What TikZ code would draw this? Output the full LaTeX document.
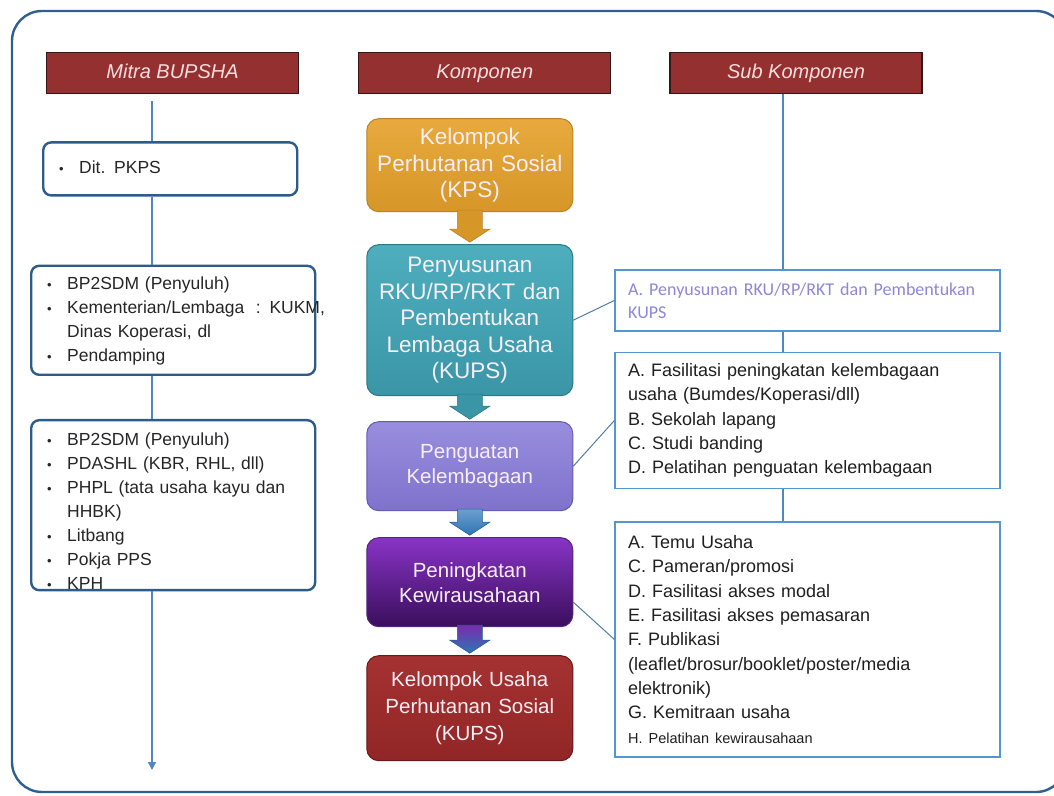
\documentclass[tikz,border=0pt]{standalone}
\usepackage{fontspec}
\setmainfont{Liberation Sans}
\newfontfamily\calibrifont{Carlito}
\usepackage{tikz}
\usetikzlibrary{shapes.geometric, arrows, arrows.meta, positioning, calc}
\definecolor{frameFg}{RGB}{47, 95, 143}
\definecolor{headBg}{RGB}{149, 48, 48}
\definecolor{headFg}{RGB}{55, 22, 22}
\definecolor{headText}{RGB}{246, 222, 222}
\definecolor{partnerFg}{RGB}{46, 92, 138}
\definecolor{spineFg}{RGB}{79, 135, 192}
\definecolor{subFg}{RGB}{84, 150, 210}
\definecolor{linkFg}{RGB}{80, 125, 165}
\definecolor{subAText}{RGB}{142, 134, 216}
\definecolor{stageText}{RGB}{248, 238, 246}
\definecolor{kpsTop}{RGB}{232, 170, 62}
\definecolor{kpsBot}{RGB}{214, 150, 40}
\definecolor{kpsFg}{RGB}{185, 130, 40}
\definecolor{rkuTop}{RGB}{78, 174, 190}
\definecolor{rkuBot}{RGB}{58, 150, 166}
\definecolor{rkuFg}{RGB}{45, 120, 135}
\definecolor{lemTop}{RGB}{152, 142, 222}
\definecolor{lemBot}{RGB}{126, 114, 204}
\definecolor{lemFg}{RGB}{100, 90, 180}
\definecolor{wirTop}{RGB}{136, 52, 198}
\definecolor{wirBot}{RGB}{58, 14, 92}
\definecolor{wirFg}{RGB}{80, 40, 120}
\definecolor{kupsTop}{RGB}{165, 50, 50}
\definecolor{kupsBot}{RGB}{145, 38, 38}
\definecolor{kupsFg}{RGB}{105, 25, 25}
\definecolor{arrBlue}{RGB}{46, 117, 182}
\definecolor{arrPurple}{RGB}{120, 45, 170}
\tikzstyle{frame} = [frameFg, line width=2.4pt, rounded corners=30pt]
\tikzstyle{head} = [rectangle, minimum width=252pt, minimum height=41pt, text height=14.5pt, text depth=4pt, draw=headFg, line width=1.2pt, fill=headBg, text=headText, font=\itshape\fontsize{20}{24}\selectfont]
\tikzstyle{partner} = [rectangle, rounded corners=8pt, draw=partnerFg, line width=2.4pt, fill=white, text=black!85, inner xsep=16pt, align=left, font=\fontsize{17.5}{24}\selectfont]
\tikzstyle{stage} = [rectangle, rounded corners=12pt, text width=196pt, inner xsep=5pt, align=center, text=stageText, line width=1pt]
\tikzstyle{sub} = [rectangle, draw=subFg, line width=1.5pt, fill=white, text width=359pt, inner xsep=13pt, align=left, text=black!88, font=\fontsize{18}{24.3}\selectfont]
\tikzstyle{spine} = [spineFg, line width=1.3pt]
\tikzstyle{link} = [linkFg, line width=1pt]
\newcommand{\bul}{{\fontsize{13}{13}\selectfont\textbullet}}
\newcommand{\stagearrow}[3]{%
  \path[#3] ($(#1.south)+(-12.5,2)$) -- ($(#1.south)+(12.5,2)$) -- ($(#2.north)+(12.5,15)$) -- ($(#2.north)+(20,15)$)
    -- ($(#2.north)+(0,2)$) -- ($(#2.north)+(-20,15)$) -- ($(#2.north)+(-12.5,15)$) -- cycle;}

\begin{document}
\begin{tikzpicture}[x=1pt, y=1pt]
\useasboundingbox (0,0) rectangle (1054,795);
\draw[frame] (12,3) rectangle (1066,784);

\node (mitra) [head, anchor=north west] at (46,743) {Mitra BUPSHA};
\node (komp) [head, anchor=west, xshift=59pt] at(mitra.east) {Komponen};
\node (subkomp) [head, anchor=west, xshift=58pt] at(komp.east) {Sub Komponen};

% mitra
\node (p1) [partner, text width=222pt, minimum height=53pt, anchor=north west, xshift=-4pt, yshift=-47pt] at(mitra.south west)
  {\begin{tabular}{@{}p{20pt}@{}l@{}} \bul & Dit. PKPS \end{tabular}};
\node (p2) [partner, text width=252pt, minimum height=109pt, anchor=north west, xshift=-12pt, yshift=-68pt] at(p1.south west)
  {\begin{tabular}{@{}p{20pt}@{}l@{}}
    \bul & BP2SDM (Penyuluh)\\
    \bul & Kementerian/Lembaga~ : KUKM,\\
         & Dinas Koperasi, dl\\
    \bul & Pendamping
  \end{tabular}};
\node (p3) [partner, text width=252pt, minimum height=170pt, text height=82pt, text depth=59pt, anchor=north west, yshift=-43pt] at(p2.south west)
  {\begin{tabular}{@{}p{20pt}@{}l@{}}
    \bul & BP2SDM (Penyuluh)\\
    \bul & PDASHL (KBR, RHL, dll)\\
    \bul & PHPL (tata usaha kayu dan\\
         & HHBK)\\
    \bul & Litbang\\
    \bul & Pokja PPS\\
    \bul & KPH
  \end{tabular}};
\coordinate (lspine) at (152,25);

\draw[spine, shorten <=7pt] (mitra.south -| lspine) -- (p1.north -| lspine);
\draw[spine] (p1.south -| lspine) -- (p2.north -| lspine);
\draw[spine] (p2.south -| lspine) -- (p3.north -| lspine);
\draw[spine, -{Triangle[width=8pt, length=8pt]}] (p3.south -| lspine) -- (lspine);

% komponen
\node (kps) [stage, minimum height=93pt, top color=kpsTop, bottom color=kpsBot, draw=kpsFg, font=\fontsize{22.5}{26.5}\selectfont, anchor=north, xshift=-15pt, yshift=-24pt] at(komp.south)
  {Kelompok\\ Perhutanan Sosial\\ (KPS)};
\node (rku) [stage, minimum height=151pt, top color=rkuTop, bottom color=rkuBot, draw=rkuFg, font=\fontsize{22.5}{26.5}\selectfont, anchor=north, yshift=-32pt] at(kps.south)
  {Penyusunan\\ RKU/RP/RKT dan\\ Pembentukan\\ Lembaga Usaha\\ (KUPS)};
\node (lembaga) [stage, minimum height=89pt, top color=lemTop, bottom color=lemBot, draw=lemFg, font=\fontsize{20.5}{25}\selectfont, anchor=north, yshift=-25pt] at(rku.south)
  {Penguatan\\ Kelembagaan};
\node (wirausaha) [stage, minimum height=89pt, top color=wirTop, bottom color=wirBot, draw=wirFg, font=\fontsize{20.5}{25}\selectfont, anchor=north, yshift=-26pt] at(lembaga.south)
  {Peningkatan\\ Kewirausahaan};
\node (kups) [stage, minimum height=105pt, top color=kupsTop, bottom color=kupsBot, draw=kupsFg, font=\fontsize{20.5}{27}\selectfont, anchor=north, yshift=-28pt] at(wirausaha.south)
  {Kelompok Usaha\\ Perhutanan Sosial\\ (KUPS)};

\stagearrow{kps}{rku}{fill=kpsBot, draw=kpsFg, line width=0.6pt}
\stagearrow{rku}{lembaga}{fill=rkuBot, draw=rkuFg, line width=0.6pt}
\stagearrow{lembaga}{wirausaha}{top color=arrBlue!70!white, bottom color=arrBlue, draw=arrBlue!80!black, line width=0.6pt}
\stagearrow{wirausaha}{kups}{top color=arrPurple, bottom color=arrBlue, draw=arrBlue!80!black, line width=0.6pt}

% sub komponen
\node (subA) [sub, minimum height=61pt, text=subAText, font=\calibrifont\fontsize{18}{23}\selectfont, anchor=north west, xshift=-55pt, yshift=-175pt] at(subkomp.south west)
  {A. Penyusunan RKU/RP/RKT dan Pembentukan\\ KUPS};
\node (subB) [sub, minimum height=136pt, anchor=north, yshift=-20pt] at(subA.south)
  {A. Fasilitasi peningkatan kelembagaan\\ usaha (Bumdes/Koperasi/dll)\\ B. Sekolah lapang\\ C. Studi banding\\ D. Pelatihan penguatan kelembagaan};
\node (subC) [sub, minimum height=235pt, anchor=north, yshift=-32pt] at(subB.south)
  {A. Temu Usaha\\ C. Pameran/promosi\\ D. Fasilitasi akses modal\\ E. Fasilitasi akses pemasaran\\ F. Publikasi\\ (leaflet/brosur/booklet/poster/media\\ elektronik)\\ G. Kemitraan usaha\\ {\fontsize{14.5}{24.3}\selectfont H. Pelatihan kewirausahaan}};
\coordinate (rspine) at (783,0);

\draw[spine] (subkomp.south -| rspine) -- (subA.north -| rspine);
\draw[spine] (subA.south -| rspine) -- (subB.north -| rspine);
\draw[spine] (subB.south -| rspine) -- (subC.north -| rspine);

\draw[link] (rku.east) -- (subA.west);
\draw[link] (lembaga.east) -- (subB.west);
\draw[link] ($(wirausaha.east)+(0,-20)$) -- (subC.west);

\end{tikzpicture}
\end{document}
